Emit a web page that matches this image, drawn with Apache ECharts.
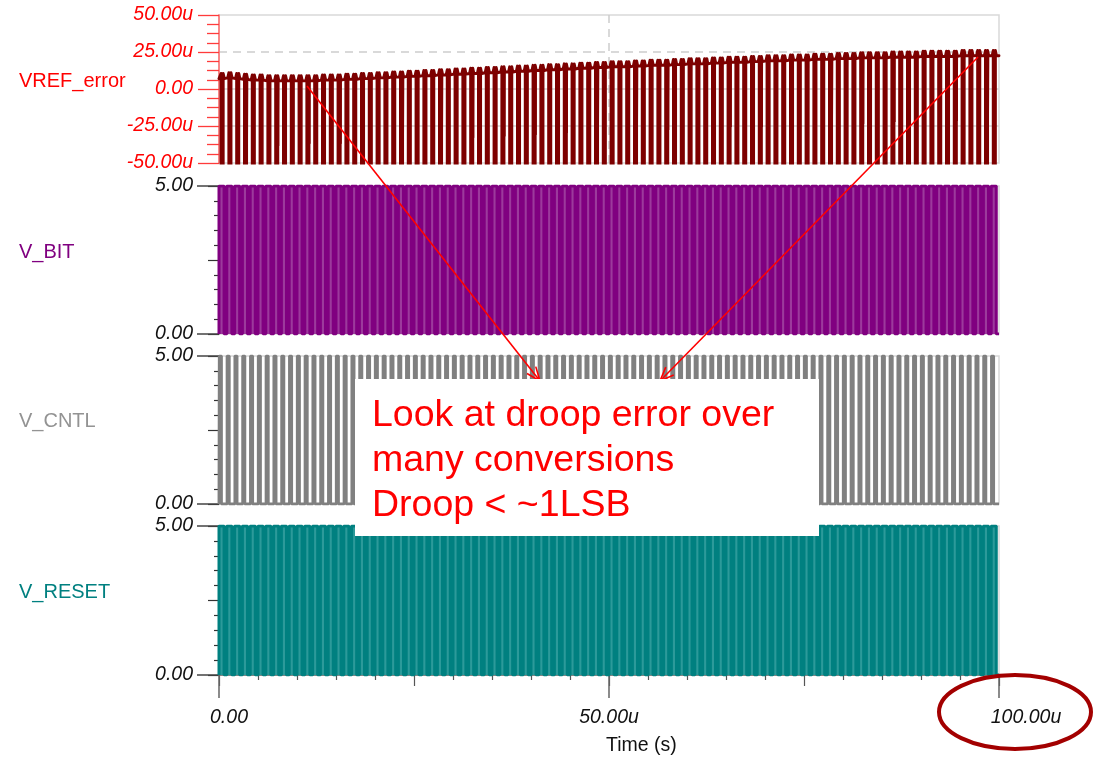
<!DOCTYPE html>
<html><head><meta charset="utf-8">
<script src="https://cdn.jsdelivr.net/npm/echarts@6/dist/echarts.min.js"></script>
<style>html,body{margin:0;padding:0;background:#fff}#c{width:1104px;height:758px}</style>
</head><body><div id="c"></div>
<script>
// ---------- data ----------
const xTicks = [0, 50, 100];                       // µs
const xTickLabels = ['0.00', '50.00u', '100.00u'];
const vrefTicks = [-50, -25, 0, 25, 50];           // µV
const vrefTickLabels = ['-50.00u', '-25.00u', '0.00', '25.00u', '50.00u'];
const logicTicks = [0, 5];
const logicTickLabels = ['0.00', '5.00'];
const panelNames = ['VREF_error', 'V_BIT', 'V_CNTL', 'V_RESET'];
const xTitle = 'Time (s)';
const noteLines = ['Look at droop error over', 'many conversions', 'Droop < ~1LSB'];

// VREF_error settled level of each conversion (µV), one per 1 µs clock cycle
const vrefLevels = [
  7, 7.5, 7, 6.5, 6, 6, 5.5, 5.5, 5.5, 5.5,
  5.5, 5.5, 5.5, 6, 6, 6, 6.5, 6.5, 7, 7,
  7.5, 7.5, 8, 8, 8.5, 8.5, 9, 9, 9.5, 9.5,
  10, 10, 10.5, 10.5, 11, 11, 11.5, 11.5, 12, 12,
  12.5, 12.5, 13, 13, 13.5, 13.5, 14, 14, 14.5, 14.5,
  15, 15, 15, 15.5, 15.5, 16, 16, 16, 16.5, 16.5,
  17, 17, 17, 17.5, 17.5, 18, 18, 18, 18.5, 18.5,
  19, 19, 19, 19.5, 19.5, 19.5, 20, 20, 20, 20.5,
  20.5, 20.5, 21, 21, 21, 21, 21.5, 21.5, 21.5, 21.5,
  22, 22, 22, 22, 22, 22.5, 22.5, 22.5, 22.5, 22.5
];
const vrefOvershoot = 3.5;      // µV bump at each edge
const vrefLowLevel = -300;      // µV, goes far below the visible range
// narrow dips seen in some of the gaps (time µs, depth µV)
const dipTimes  = [3.65, 7.65, 11.65, 15.65, 23.65, 28.65, 32.65, 36.65, 40.65, 44.65, 48.65, 53.65, 57.65, 65.65, 69.65, 78.65, 82.65, 86.65, 94.65, 98.65];
const dipDepths = [-37, -38.5, -37, -37, -34.5, -34.5, -33, -32, -31, -29.7, -29.7, -28.4, -27.7, -25.7, -25.7, -24.3, -23.6, -22.3, -21.6, -21];

const clockPeriod = 1;          // µs
const cycles = 100;
const logicHigh = 5, logicLow = 0;
// phases inside one clock cycle (fraction of period)
const vrefFall = 0.26, vrefRise = 0.54;
const cntlRise = 0.04, cntlFall = 0.31;
const bitFall = 0.65;
const resetFall = 0.65;

// ---------- build waveforms ----------
const vrefData = [[0, vrefLevels[0]]];
for (let k = 0; k < cycles; k++) {
  const t0 = k * clockPeriod, L = vrefLevels[k];
  vrefData.push([t0 + vrefFall - 0.14, L], [t0 + vrefFall, L + vrefOvershoot], [t0 + vrefFall + 0.01, vrefLowLevel],
                [t0 + vrefRise - 0.01, vrefLowLevel], [t0 + vrefRise, L + vrefOvershoot], [t0 + vrefRise + 0.14, L]);
}
vrefData.push([100, vrefLevels[cycles - 1]]);

const dipData = [];
dipTimes.forEach((t, i) => {
  const L = vrefLevels[Math.min(cycles - 1, Math.floor(t))];
  dipData.push([t - 0.04, L], [t, dipDepths[i]], [t + 0.04, L], '-');
});

function pulseTrain(riseFrac, fallFrac) {
  const d = [[0, logicLow]];
  for (let k = 0; k < cycles; k++) {
    const t0 = k * clockPeriod;
    d.push([t0 + riseFrac, logicLow], [t0 + riseFrac, logicHigh], [t0 + fallFrac, logicHigh], [t0 + fallFrac, logicLow]);
  }
  d.push([100, logicLow]);
  return d;
}
const bitData = pulseTrain(0.0, bitFall);
const cntlData = pulseTrain(cntlRise, cntlFall);
const resetData = pulseTrain(0.0, resetFall);

// ---------- chart ----------
const FONT = 'Liberation Sans, Arial, sans-serif';
const TS = 19.5;
const L = 219, W = 780;
const grids = [
  {left: L, top: 15, width: W, height: 148},
  {left: L, top: 186, width: W, height: 148},
  {left: L, top: 356, width: W, height: 148},
  {left: L, top: 526, width: W, height: 149}
].map(g => Object.assign(g, {show: true, borderColor: '#d9d9d9', borderWidth: 1.5, backgroundColor: 'transparent'}));

const hiddenX = i => ({gridIndex: i, type: 'value', min: 0, max: 100, show: false});
const xAxes = [
  {gridIndex: 0, type: 'value', min: 0, max: 100, interval: 50,
   axisLine: {show: false}, axisTick: {show: false}, axisLabel: {show: false},
   splitLine: {show: true, lineStyle: {color: ['transparent', '#cdcdcd', 'transparent'], type: [8, 6], width: 1.5}}},
  hiddenX(1), hiddenX(2),
  {gridIndex: 3, type: 'value', position: 'bottom', min: 0, max: 100, interval: 25,
   axisLine: {show: true, lineStyle: {color: '#666', width: 1.5}},
   axisTick: {show: true, length: 11, lineStyle: {color: '#555', width: 1.2}},
   minorTick: {show: true, splitNumber: 5, length: 5, lineStyle: {color: '#555', width: 1.2}},
   axisLabel: {show: false}, splitLine: {show: false}},
  {gridIndex: 3, type: 'value', position: 'bottom', min: 0, max: 100, interval: 50,
   axisLine: {show: false},
   axisTick: {show: true, length: 23, lineStyle: {color: '#666', width: 1.5}},
   axisLabel: {show: true, margin: 33,
     formatter: v => { const i = xTicks.indexOf(v); return i < 0 ? '' : '{l' + i + '|' + xTickLabels[i] + '}'; },
     rich: {
       l0: {fontSize: TS, fontStyle: 'italic', fontFamily: FONT, color: '#111', padding: [0, 0, 0, 20]},
       l1: {fontSize: TS, fontStyle: 'italic', fontFamily: FONT, color: '#111', padding: [0, 0, 0, 0]},
       l2: {fontSize: TS, fontStyle: 'italic', fontFamily: FONT, color: '#111', padding: [0, 0, 0, 54]}
     }},
   splitLine: {show: false}}
];

const yAxes = [
  {gridIndex: 0, type: 'value', position: 'left', min: -50, max: 50, interval: 25,
   axisLine: {show: true, lineStyle: {color: '#ff6a6a', width: 1.5}},
   axisTick: {show: true, length: 21, lineStyle: {color: '#ff3b3b', width: 1.3}},
   minorTick: {show: true, splitNumber: 4, length: 12, lineStyle: {color: '#ff3b3b', width: 1.3}},
   axisLabel: {show: true, margin: 26, color: '#ff0000', fontSize: TS, fontStyle: 'italic', fontFamily: FONT,
     formatter: v => { const i = vrefTicks.indexOf(v); return i < 0 ? '' : vrefTickLabels[i]; }},
   splitLine: {show: true, lineStyle: {color: ['transparent', '#d4d4d4', '#d4d4d4', 'transparent', 'transparent'], width: 1.5}}},
  // dashed 25u reference line (ticks from -50 in steps of 75 -> -50, 25)
  {gridIndex: 0, type: 'value', position: 'left', min: -50, max: 50, interval: 75,
   axisLine: {show: false}, axisTick: {show: false}, axisLabel: {show: false},
   splitLine: {show: true, lineStyle: {color: ['transparent', '#cdcdcd'], type: [8, 6], width: 1.5}}}
];
[1, 2, 3].forEach(g => {
  yAxes.push({gridIndex: g, type: 'value', position: 'left', min: 0, max: 5, interval: 2.5,
    axisLine: {show: true, lineStyle: {color: '#555', width: 1.5}},
    axisTick: {show: true, length: 11, lineStyle: {color: '#333', width: 1.2}},
    minorTick: {show: true, splitNumber: 5, length: 5, lineStyle: {color: '#333', width: 1.2}},
    axisLabel: {show: false}, splitLine: {show: false}});
  yAxes.push({gridIndex: g, type: 'value', position: 'left', min: 0, max: 5, interval: 5,
    axisLine: {show: false},
    axisTick: {show: true, length: 22, lineStyle: {color: '#444', width: 1.5}},
    axisLabel: {show: true, margin: 26, color: '#111', fontSize: TS, fontStyle: 'italic', fontFamily: FONT,
      formatter: v => { const i = logicTicks.indexOf(v); return i < 0 ? '' : logicTickLabels[i]; }},
    splitLine: {show: false}});
});

const lineBase = {type: 'line', showSymbol: false, symbol: 'none', silent: true, animation: false, clip: true, sampling: null};
const series = [
  Object.assign({}, lineBase, {name: panelNames[0], xAxisIndex: 0, yAxisIndex: 0, data: vrefData, z: 3,
    lineStyle: {color: '#7d0000', width: 2.9, join: 'round', cap: 'round'}}),
  Object.assign({}, lineBase, {name: panelNames[0] + ' dips', xAxisIndex: 0, yAxisIndex: 0, data: dipData, z: 3, connectNulls: false,
    lineStyle: {color: '#800000', width: 1}}),
  Object.assign({}, lineBase, {name: panelNames[1], xAxisIndex: 1, yAxisIndex: 2, data: bitData, z: 3,
    lineStyle: {color: '#800080', width: 3}, areaStyle: {color: '#9c3a9c', opacity: 1, origin: 'start'}}),
  Object.assign({}, lineBase, {name: panelNames[2], xAxisIndex: 2, yAxisIndex: 4, data: cntlData, z: 3,
    lineStyle: {color: '#808080', width: 2.9}}),
  Object.assign({}, lineBase, {name: panelNames[3], xAxisIndex: 3, yAxisIndex: 6, data: resetData, z: 3,
    lineStyle: {color: '#008080', width: 3}, areaStyle: {color: '#2c9a9a', opacity: 1, origin: 'start'}})
];

// arrows
function arrow(x1, y1, x2, y2) {
  const a = Math.atan2(y2 - y1, x2 - x1), len = 15, sp = 0.38;
  return [
    {type: 'line', z: 100, shape: {x1, y1, x2, y2}, style: {stroke: '#ff0000', lineWidth: 1.6}},
    {type: 'polyline', z: 100, shape: {points: [
      [x2 - len * Math.cos(a - sp), y2 - len * Math.sin(a - sp)], [x2, y2],
      [x2 - len * Math.cos(a + sp), y2 - len * Math.sin(a + sp)]]},
     style: {stroke: '#ff0000', lineWidth: 1.6, fill: null}}
  ];
}

const graphic = [
  {type: 'text', z: 100, left: 19, top: 71, style: {text: panelNames[0], fill: '#ff0000', font: '20px ' + FONT}},
  {type: 'text', z: 100, left: 19, top: 242, style: {text: panelNames[1], fill: '#800080', font: '20px ' + FONT}},
  {type: 'text', z: 100, left: 19, top: 411, style: {text: panelNames[2], fill: '#939393', font: '20px ' + FONT}},
  {type: 'text', z: 100, left: 19, top: 582, style: {text: panelNames[3], fill: '#008080', font: '20px ' + FONT}},
  {type: 'text', z: 100, left: 606, top: 736, style: {text: xTitle, fill: '#111', font: '19.5px ' + FONT}},
  ...arrow(307, 86, 540, 381),
  ...arrow(978, 57, 660, 381),
  {type: 'rect', z: 110, shape: {x: 355, y: 379, width: 464, height: 157}, style: {fill: '#ffffff'}},
  {type: 'text', z: 120, x: 372, y: 393, style: {text: noteLines.join('\n'), fill: '#ff0000', font: '37.5px ' + FONT, lineHeight: 45, textVerticalAlign: 'top'}},
  {type: 'ellipse', z: 120, shape: {cx: 1015, cy: 712, rx: 76, ry: 37}, style: {fill: 'transparent', stroke: '#a30000', lineWidth: 4}}
];

const chart = echarts.init(document.getElementById('c'), null, {renderer: 'canvas'});
chart.setOption({animation: false, backgroundColor: '#ffffff', textStyle: {fontFamily: FONT},
  grid: grids, xAxis: xAxes, yAxis: yAxes, series, graphic});
</script></body></html>
